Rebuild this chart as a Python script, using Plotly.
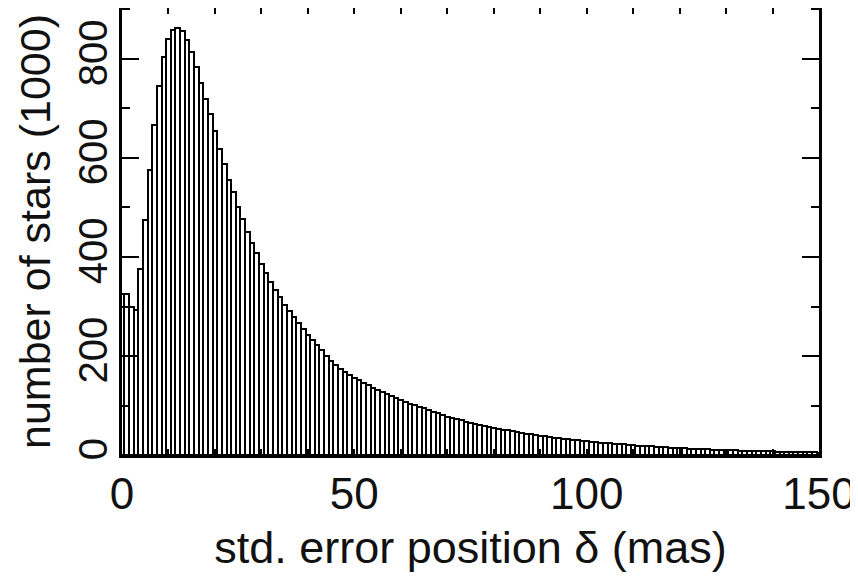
import plotly.graph_objects as go

# bin centres (mas), width 1
bin_centers = list(range(0, 151))
# number of stars (1000) per bin
counts = [
    325, 325, 300, 292, 376, 474, 576, 667, 746, 804,
    841, 859, 863, 856, 838, 814, 784, 751, 719, 688,
    654, 618, 588, 556, 531, 500, 476, 451, 429, 408,
    386, 368, 350, 334, 319, 304, 290, 278, 266, 254,
    242, 232, 222, 212, 200, 190, 182, 174, 168, 162,
    156, 151, 146, 141, 136, 132, 128, 124, 120, 116,
    112, 108, 104, 101, 97, 94, 90, 87, 84, 80,
    77, 75, 72, 70, 67, 65, 63, 61, 59, 57,
    55, 53, 51, 50, 48, 46, 45, 43, 42, 40,
    39, 38, 36, 35, 34, 33, 32, 31, 30, 29,
    28, 27, 26, 25, 25, 24, 23, 22, 22, 21,
    20, 19, 19, 18, 18, 17, 16, 16, 15, 15,
    14, 14, 13, 13, 13, 12, 12, 11, 11, 11,
    10, 10, 10, 9, 9, 9, 9, 8, 8, 8,
    8, 7, 7, 7, 7, 6, 6, 6, 6, 6, 5,
]
x_tick_vals = [0, 50, 100, 150]
x_tick_text = ["0", "50", "100", "150"]
y_tick_vals = [0, 200, 400, 600, 800]
y_tick_text = ["0", "200", "400", "600", "800"]

FONT = "Liberation Sans, Arial, sans-serif"

fig = go.Figure(
    go.Bar(
        x=bin_centers,
        y=counts,
        width=1,
        marker=dict(color="white", line=dict(color="black", width=2)),
        hoverinfo="x+y",
    )
)

fig.update_layout(
    width=850,
    height=565,
    margin=dict(l=114, r=39, t=0, b=118),
    paper_bgcolor="white",
    plot_bgcolor="white",
    showlegend=False,
    bargap=0,
    font=dict(family=FONT, color="#111111", size=40),
)

fig.update_xaxes(
    range=[0, 150],
    automargin=False,
    tickmode="array",
    tickvals=x_tick_vals,
    ticktext=x_tick_text,
    ticks="inside",
    ticklen=6,
    tickwidth=2,
    tickcolor="black",
    minor=dict(dtick=10, ticks="inside", ticklen=6, tickwidth=2, tickcolor="black"),
    showline=True,
    linecolor="black",
    linewidth=2.5,
    mirror="ticks",
    showgrid=False,
    zeroline=False,
    tickfont=dict(size=44, family=FONT),
    ticklabelstandoff=-2,
    ticklabeloverflow="allow",
    title=dict(text="std. error position δ (mas)", font=dict(size=45, family=FONT), standoff=18),
)

fig.update_yaxes(
    range=[0, 903],
    automargin=False,
    tickmode="array",
    tickvals=y_tick_vals,
    ticktext=y_tick_text,
    tickangle=-90,
    ticks="inside",
    ticklen=17,
    tickwidth=2,
    tickcolor="black",
    minor=dict(dtick=100, ticks="inside", ticklen=8, tickwidth=2, tickcolor="black"),
    showline=True,
    linecolor="black",
    linewidth=2.5,
    mirror="ticks",
    showgrid=False,
    zeroline=False,
    tickfont=dict(size=40, family=FONT),
    ticklabelstandoff=-4,
    title=dict(text="number of stars (1000)", font=dict(size=43, family=FONT), standoff=8),
)

fig.write_html("out.html")
